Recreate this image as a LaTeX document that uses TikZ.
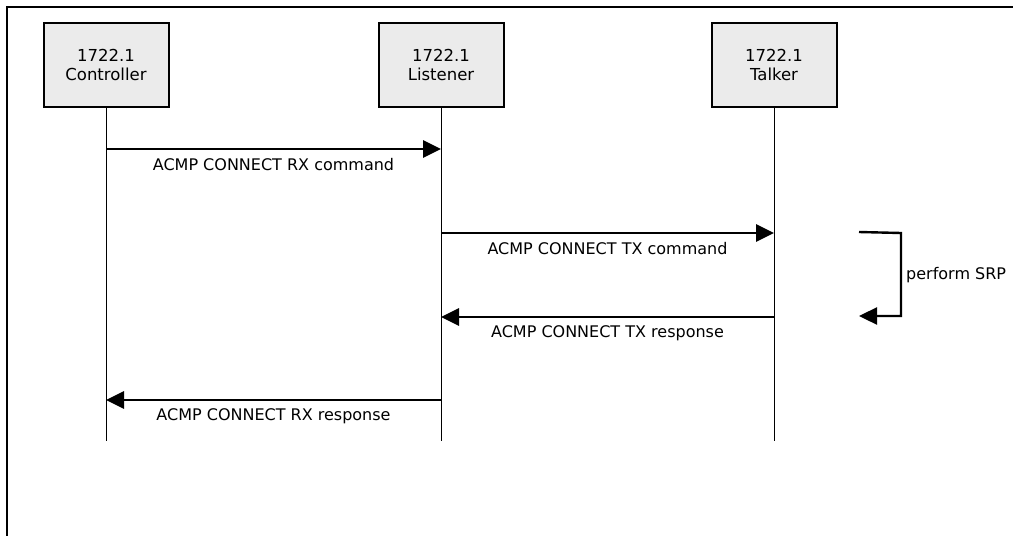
\documentclass[tikz,border=0pt]{standalone}
\usepackage{fontspec}
\setmainfont{DejaVu Sans}
\usetikzlibrary{arrows.meta}
\begin{document}
\begin{tikzpicture}[x=1pt,y=-1pt,
  actor/.style={draw=black, line width=2pt, fill=black!8, minimum width=125pt,
    minimum height=84pt, align=center, font=\fontsize{16.5}{19.5}\selectfont, inner sep=0pt},
  lifeline/.style={line width=1pt},
  msg/.style={line width=2.8pt, -{Triangle[length=18pt,width=17pt]}},
  msglabel/.style={font=\fontsize{16}{19}\selectfont, inner sep=0pt}]
  \useasboundingbox (0,0) rectangle (1013,536);
  % outer frame (top and left edges)
  \draw[line width=1.5pt] (1013,7) -- (7,7) -- (7,536);

  % participants
  \node[actor] (ctrl) at (106,65) {1722.1\\Controller};
  \node[actor] (lst)  at (441,65) {1722.1\\Listener};
  \node[actor] (tlk)  at (774,65) {1722.1\\Talker};

  % lifeline ends
  \coordinate (ctrlEnd) at (106,441);
  \coordinate (lstEnd)  at (441,441);
  \coordinate (tlkEnd)  at (774,441);
  \draw[lifeline] (ctrl.south) -- (ctrlEnd);
  \draw[lifeline] (lst.south) -- (lstEnd);
  \draw[lifeline] (tlk.south) -- (tlkEnd);

  % message anchor points on the lifelines
  \coordinate (c1) at (106,149);  \coordinate (l1) at (441,149);
  \coordinate (l2) at (441,233);  \coordinate (t2) at (774,233);
  \coordinate (t3) at (774,317);  \coordinate (l3) at (441,317);
  \coordinate (l4) at (441,400);  \coordinate (c4) at (106,400);

  \draw[msg] (c1) -- (l1);
  \node[msglabel] (m1) at (273.5,165) {ACMP CONNECT RX command};
  \draw[msg] (l2) -- (t2);
  \node[msglabel] (m2) at (607.5,249) {ACMP CONNECT TX command};
  \draw[msg] (t3) -- (l3);
  \node[msglabel] (m3) at (607.5,333) {ACMP CONNECT TX response};
  \draw[msg] (l4) -- (c4);
  \node[msglabel] (m4) at (273.5,416) {ACMP CONNECT RX response};

  % self step at the talker
  \coordinate (s1) at (859,232);
  \coordinate (s2) at (859,316);
  \draw[msg, line width=2.4pt] (s1) -- (901,233) -- (901,316) -- (s2);
  \node[msglabel, anchor=west] (srp) at (906,275) {perform SRP};
\end{tikzpicture}
\end{document}
